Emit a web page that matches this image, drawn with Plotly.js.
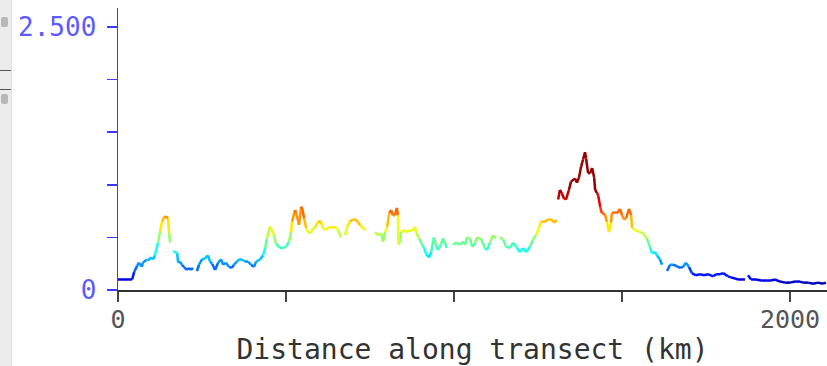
<!DOCTYPE html>
<html>
<head>
<meta charset="utf-8">
<script src="https://cdn.plot.ly/plotly-3.0.1.min.js"></script>
<style>
html,body{margin:0;padding:0;background:#fff;}
#chart{width:827px;height:366px;}
#strip{position:absolute;left:0;top:0;width:11px;height:366px;background:#ececec;border-right:1px solid #dde3e6;}
.hl{position:absolute;left:0;width:11px;height:1px;background:#555;}
.ic{position:absolute;left:1px;width:7px;height:10px;background:#b8b8b8;border-radius:2px;}
</style>
</head>
<body>
<div id="chart"></div>
<div id="strip"><div class="ic" style="top:17px"></div><div class="hl" style="top:70px"></div><div class="hl" style="top:89px"></div><div class="ic" style="top:94px"></div></div>
<script>
// Distance along transect (km) and value; null = gap in the line
const distanceKm = [0,21,36,42,48,57,62,71,74,86,89,98,104,110,119,125,131,137,143,149,152,155,null,
164,176,179,185,190,196,205,211,217,223,null,
235,241,250,259,268,274,280,289,298,307,313,321,330,339,345,354,360,369,378,387,396,405,411,423,432,438,443,452,455,464,470,482,491,500,509,515,518,527,530,539,545,548,554,560,565,574,580,586,595,604,610,616,625,634,640,646,655,664,null,
676,682,690,699,708,720,729,738,null,
765,774,783,789,795,801,807,813,818,824,830,833,835,839,842,851,857,869,875,884,887,896,905,911,917,926,932,940,946,952,961,967,973,979,null,
997,1006,1018,1027,1033,1039,1048,1054,1063,1068,1077,1080,1092,1098,1107,1116,1125,null,
1137,1146,1155,1167,1176,1185,1196,1205,1214,1226,1235,1244,1253,1259,1271,1280,1289,1301,1304,null,
1310,1315,1321,1327,1333,1342,1348,1360,1366,1372,1378,1384,1390,1393,1399,1405,1411,1417,1420,1426,1429,1435,1440,1449,1455,1461,1467,1470,1479,1485,1494,1500,1506,1512,1521,1527,1530,1539,1554,1562,1574,1583,1589,1598,1604,1613,1619,null,
1634,1643,1652,1661,1673,1682,1690,1699,1708,1720,1732,1744,1756,1771,1780,1792,1801,1815,1824,1836,1845,1854,1866,null,
1875,1884,1899,1914,1929,1943,1955,1970,1985,2000,2015,2030,2039,2054,2068,2083,2098,2107];
const values = [0.10,0.10,0.10,0.10,0.17,0.23,0.26,0.22,0.26,0.29,0.28,0.31,0.29,0.33,0.45,0.55,0.65,0.69,0.70,0.68,0.54,0.45,null,
0.37,0.35,0.26,0.27,0.24,0.22,0.19,0.21,0.19,0.21,null,
0.18,0.24,0.29,0.30,0.33,0.27,0.25,0.19,0.26,0.29,0.24,0.26,0.22,0.21,0.24,0.27,0.29,0.29,0.27,0.27,0.24,0.22,0.27,0.29,0.33,0.40,0.49,0.60,0.59,0.52,0.44,0.40,0.40,0.41,0.46,0.55,0.65,0.76,0.73,0.62,0.79,0.78,0.68,0.59,0.55,0.54,0.59,0.59,0.65,0.65,0.59,0.57,0.59,0.60,0.59,0.60,0.57,0.50,null,
0.52,0.60,0.65,0.67,0.67,0.62,0.59,0.57,null,
0.55,0.52,0.54,0.46,0.55,0.60,0.73,0.76,0.71,0.71,0.78,0.71,0.43,0.46,0.55,0.57,0.55,0.57,0.56,0.60,0.55,0.49,0.43,0.40,0.34,0.31,0.36,0.50,0.43,0.38,0.43,0.49,0.45,0.40,null,
0.43,0.45,0.43,0.46,0.43,0.50,0.49,0.41,0.45,0.50,0.49,0.49,0.40,0.38,0.45,0.52,0.49,null,
0.50,0.48,0.41,0.40,0.45,0.41,0.36,0.40,0.36,0.41,0.48,0.52,0.59,0.65,0.65,0.67,0.67,0.64,0.67,null,
0.86,0.95,0.92,0.87,0.86,0.95,1.03,1.06,1.02,1.07,1.17,1.24,1.31,1.25,1.11,1.11,1.16,1.07,0.95,0.92,0.90,0.79,0.73,0.72,0.65,0.55,0.64,0.73,0.74,0.73,0.77,0.71,0.67,0.68,0.77,0.71,0.59,0.57,0.55,0.54,0.49,0.41,0.35,0.36,0.33,0.29,0.24,null,
0.18,0.24,0.24,0.23,0.21,0.22,0.26,0.22,0.16,0.14,0.15,0.14,0.15,0.13,0.15,0.15,0.16,0.13,0.12,0.11,0.10,0.10,0.10,null,
0.14,0.10,0.10,0.09,0.09,0.09,0.10,0.08,0.07,0.07,0.08,0.08,0.07,0.07,0.06,0.07,0.06,0.07];
const yTickVals = [0,0.5,1,1.5,2,2.5];
const yTickText = ["0","","","","","2.500"];
const xTickVals = [0,500,1000,1500,2000];
const xTickText = ["0","","","","2000"];

const colorMax = 0.95;
const NB = 24;
function clamp(v){return Math.max(0,Math.min(1,v));}
function jet(t){
  t = clamp(t);
  const r = clamp(1.5-Math.abs(4*t-3)), g = clamp(1.5-Math.abs(4*t-2)), b = clamp(1.5-Math.abs(4*t-1));
  return 'rgb('+Math.round(r*255)+','+Math.round(g*255)+','+Math.round(b*255)+')';
}
function binOf(v){return Math.min(NB-1,Math.floor(clamp(v/colorMax)*NB));}
const bins = [];
for(let i=0;i<NB;i++) bins.push({x:[],y:[]});
for(let i=0;i<distanceKm.length-1;i++){
  const a=values[i], b=values[i+1];
  if(a===null||b===null) continue;
  const k = binOf((a+b)/2);
  bins[k].x.push(distanceKm[i],distanceKm[i+1],null);
  bins[k].y.push(a,b,null);
}
const traces = bins.map((bn,k)=>({
  type:'scatter', mode:'lines', x:bn.x, y:bn.y, hoverinfo:'skip',
  line:{color:jet((k+0.5)/NB), width:2.5}, connectgaps:false, showlegend:false
}));

const layout = {
  width:827, height:366,
  margin:{l:118, r:0, t:8, b:76, pad:0},
  paper_bgcolor:'#fff', plot_bgcolor:'#fff',
  showlegend:false,
  xaxis:{range:[0,2110], showgrid:false, zeroline:false, showline:true, linecolor:'#333', linewidth:1.5,
    ticks:'outside', ticklen:10, tickcolor:'#444', tickwidth:1.5,
    tickvals:xTickVals, ticktext:xTickText, ticklabelstandoff:-4,
    tickfont:{family:'DejaVu Sans Mono', size:25, color:'#555'},
    title:{text:'Distance along transect (km)', font:{family:'DejaVu Sans Mono', size:28, color:'#333'}, standoff:8}},
  yaxis:{range:[0,2.68], showgrid:false, zeroline:false, showline:true, linecolor:'#3a3aff', linewidth:1.5,
    ticks:'outside', ticklen:10, tickcolor:'#3a3aff', tickwidth:1.5,
    tickvals:yTickVals, ticktext:yTickText, ticklabelstandoff:5,
    tickfont:{family:'DejaVu Sans Mono', size:26, color:'#5a5aff'}}
};
Plotly.newPlot('chart', traces, layout, {staticPlot:true, displayModeBar:false});
</script>
</body>
</html>
